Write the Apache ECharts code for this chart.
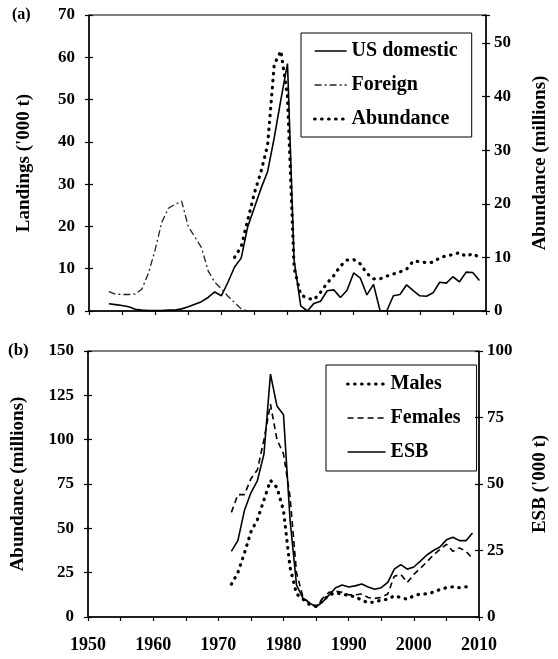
<!DOCTYPE html>
<html>
<head>
<meta charset="utf-8">
<script src="https://cdn.jsdelivr.net/npm/echarts@6/dist/echarts.min.js"></script>
<style>
  html, body { margin: 0; padding: 0; background: #fff; }
  #chart { width: 558px; height: 659px; }
</style>
</head>
<body>
<div id="chart"></div>
<script>
// (a) landings ('000 t) and abundance (millions)
const yearsLandings = [1953, 1954, 1955, 1956, 1957, 1958, 1959,
  1960, 1961, 1962, 1963, 1964, 1965, 1966, 1967, 1968, 1969,
  1970, 1971, 1972, 1973, 1974, 1975, 1976, 1977, 1978, 1979,
  1980, 1981, 1982, 1983, 1984, 1985, 1986, 1987, 1988, 1989,
  1990, 1991, 1992, 1993, 1994, 1995, 1996, 1997, 1998, 1999,
  2000, 2001, 2002, 2003, 2004, 2005, 2006, 2007, 2008, 2009];
const usDomestic = [1.7, 1.5, 1.3, 1.0, 0.4, 0.2, 0.1,
  0.1, 0.1, 0.2, 0.2, 0.5, 1.0, 1.6, 2.2, 3.2, 4.5,
  3.6, 6.8, 10.4, 12.5, 20, 24.5, 29, 33, 41, 50,
  58.5, 12, 1.2, 0, 1.8, 2.3, 4.8, 5.0, 3.2, 4.9,
  9.0, 7.8, 3.8, 6.3, 0, 0, 3.6, 3.9, 6.2, 4.8,
  3.6, 3.5, 4.3, 6.8, 6.6, 8.1, 6.9, 9.2, 9.1, 7.2];

const yearsForeign = [1953, 1954, 1955, 1956, 1957, 1958, 1959, 1960, 1961, 1962, 1963,
  1964, 1965, 1966, 1967, 1968, 1969, 1970, 1971, 1972, 1973, 1974];
const foreign = [4.6, 4.0, 3.9, 3.9, 4.0, 5.2, 9.0, 14.5, 21.0, 24.3, 25.2,
  26.0, 20.0, 17.5, 15.0, 9.5, 6.8, 5.3, 3.5, 2.0, 0.5, 0];

const yearsSurvey = [1972, 1973, 1974, 1975, 1976, 1977, 1978, 1979, 1980, 1981,
  1982, 1983, 1984, 1985, 1986, 1987, 1988, 1989, 1990, 1991,
  1992, 1993, 1994, 1995, 1996, 1997, 1998, 1999, 2000, 2001,
  2002, 2003, 2004, 2005, 2006, 2007, 2008, 2009];
const abundance = [10, 12, 17, 22, 26, 31, 46, 48.5, 40, 8,
  3, 2.4, 2.1, 3.5, 5.2, 6.6, 8.4, 9.5, 9.6, 8.8,
  7.0, 6.0, 6.0, 6.5, 6.9, 7.3, 7.8, 9.3, 9.2, 9.0,
  9.1, 9.9, 10.3, 10.5, 10.9, 10.2, 10.7, 10.0];

// (b) males, females (millions) and ESB ('000 t), same years as yearsSurvey
const males = [18.5, 25, 36, 48, 55, 66, 77, 73, 60, 28,
  13, 10, 7, 6, 9, 12.5, 13.5, 13, 12, 11.5,
  9.5, 8, 8.5, 9.5, 10, 12, 11, 10, 12, 13,
  13, 14, 15.5, 16.5, 17, 16.5, 17, 16.5];
const females = [59, 69, 69, 78, 83, 100, 120, 100, 92, 68,
  25, 11, 8, 6, 10.5, 14, 14.5, 14, 12.5, 12.5,
  13, 11, 10.5, 11, 13, 23, 24, 19.5, 24, 27.5,
  31, 35, 38, 41, 37, 39, 37, 33];
const esb = [24.7, 28.7, 40, 46.7, 51.3, 61.3, 91.3, 79.3, 76, 36.7,
  12, 7, 5.3, 3.7, 5.7, 8.3, 11, 12, 11.3, 11.7,
  12.4, 11.3, 10.4, 11, 13, 18, 19.7, 18, 18.8, 21,
  23.3, 25, 26.3, 29, 30, 28.7, 28.7, 31.6];

const FONT = '"Liberation Serif", "DejaVu Serif", serif';
const txt = (size) => ({ fontFamily: FONT, fontWeight: 'bold', fontSize: size, color: '#000' });
const pairs = (xs, ys) => xs.map((x, i) => [x, ys[i]]);
const tens = (v) => (Math.abs(v % 10) < 1e-9 ? String(v) : '');

const dotted = { color: '#000', width: 3.2, type: [0.5, 6.5], cap: 'round' };
const dashDot = { color: '#222', width: 1.3, type: [7, 3, 2, 3] };
const dashed = { color: '#000', width: 1.6, type: [6, 4] };
const solid = { color: '#000', width: 1.6 };

function yAx(grid, pos, max, interval, opts) {
  return Object.assign({
    type: 'value', gridIndex: grid, position: pos, min: 0, max: max, interval: interval,
    axisLine: { show: true, lineStyle: { color: '#000', width: 1.5 } },
    axisTick: { show: true, length: 4, lineStyle: { color: '#000', width: 1.2 } },
    axisLabel: { show: true, margin: 14, ...txt(17) },
    splitLine: { show: false },
    nameLocation: 'middle', nameTextStyle: txt(19)
  }, opts);
}
// twins that only draw the inner half of the "+" ticks
function yTwin(grid, pos, max, interval) {
  return yAx(grid, pos, max, interval, {
    axisLine: { show: false },
    axisTick: { show: true, inside: true, length: 4, lineStyle: { color: '#000', width: 1.2 } },
    axisLabel: { show: false }
  });
}

const xBase = {
  type: 'value', min: 1950, max: 2010, interval: 5,
  axisLine: { lineStyle: { color: '#000', width: 1.5 } },
  axisTick: { length: 4, lineStyle: { color: '#000', width: 1.2 } },
  splitLine: { show: false }
};

// legend keeps the line sample only, no marker
const legendBase = {
  orient: 'vertical', itemHeight: 14, itemGap: 14,
  borderColor: '#000', borderWidth: 1, textStyle: txt(20),
  itemStyle: { color: 'rgba(0,0,0,0)', borderWidth: 0 }
};

const chart = echarts.init(document.getElementById('chart'), null, { renderer: 'canvas' });

chart.setOption({
  animation: false,
  backgroundColor: '#fff',
  grid: [
    { left: 89, top: 15, width: 399, height: 296, show: true, borderColor: '#000', borderWidth: 1 },
    { left: 88, top: 351, width: 400, height: 266, show: true, borderColor: '#000', borderWidth: 1 }
  ],
  xAxis: [
    Object.assign({ gridIndex: 0, axisLabel: { show: false } }, xBase),
    Object.assign({ gridIndex: 1, axisLabel: { formatter: tens, margin: 19, ...txt(18) } }, xBase)
  ],
  yAxis: [
    yAx(0, 'left', 70, 10, { name: "Landings ('000 t)", nameGap: 55 }),
    yAx(0, 'right', 55.2, 10, { name: 'Abundance (millions)', nameGap: 45,
      axisLabel: { show: true, margin: 8, formatter: tens, ...txt(17) } }),
    yAx(1, 'left', 150, 25, { name: 'Abundance (millions)', nameGap: 60 }),
    yAx(1, 'right', 100, 25, { name: "ESB ('000 t)", nameGap: 52,
      axisLabel: { show: true, margin: 8, ...txt(17) } }),
    yTwin(0, 'left', 70, 10),
    yTwin(0, 'right', 55.2, 10),
    yTwin(1, 'left', 150, 25),
    yTwin(1, 'right', 100, 25)
  ],
  legend: [
    Object.assign({}, legendBase, {
      left: 301, top: 33, itemWidth: 32, padding: [8, 14, 8, 12],
      data: [
        { name: 'US domestic', lineStyle: solid },
        { name: 'Foreign', lineStyle: dashDot },
        { name: 'Abundance', lineStyle: dotted }
      ]
    }),
    Object.assign({}, legendBase, {
      left: 326, top: 365, itemWidth: 38, padding: [9, 16, 9, 20],
      data: [
        { name: 'Males', lineStyle: dotted },
        { name: 'Females', lineStyle: dashed },
        { name: 'ESB', lineStyle: solid }
      ]
    })
  ],
  graphic: [
    { type: 'text', left: 12, top: 7, style: { text: '(a)', font: 'bold 16px ' + FONT, fill: '#000' } },
    { type: 'text', left: 8, top: 342, style: { text: '(b)', font: 'bold 17px ' + FONT, fill: '#000' } }
  ],
  series: [
    { name: 'US domestic', type: 'line', xAxisIndex: 0, yAxisIndex: 0, symbol: 'none',
      data: pairs(yearsLandings, usDomestic), lineStyle: solid, itemStyle: { color: '#000' } },
    { name: 'Foreign', type: 'line', xAxisIndex: 0, yAxisIndex: 0, symbol: 'none',
      data: pairs(yearsForeign, foreign), lineStyle: dashDot, itemStyle: { color: '#222' } },
    { name: 'Abundance', type: 'line', xAxisIndex: 0, yAxisIndex: 1, symbol: 'none',
      data: pairs(yearsSurvey, abundance), lineStyle: dotted, itemStyle: { color: '#000' } },
    { name: 'Males', type: 'line', xAxisIndex: 1, yAxisIndex: 2, symbol: 'none',
      data: pairs(yearsSurvey, males), lineStyle: dotted, itemStyle: { color: '#000' } },
    { name: 'Females', type: 'line', xAxisIndex: 1, yAxisIndex: 2, symbol: 'none',
      data: pairs(yearsSurvey, females), lineStyle: dashed, itemStyle: { color: '#000' } },
    { name: 'ESB', type: 'line', xAxisIndex: 1, yAxisIndex: 3, symbol: 'none',
      data: pairs(yearsSurvey, esb), lineStyle: solid, itemStyle: { color: '#000' } }
  ]
});
</script>
</body>
</html>
